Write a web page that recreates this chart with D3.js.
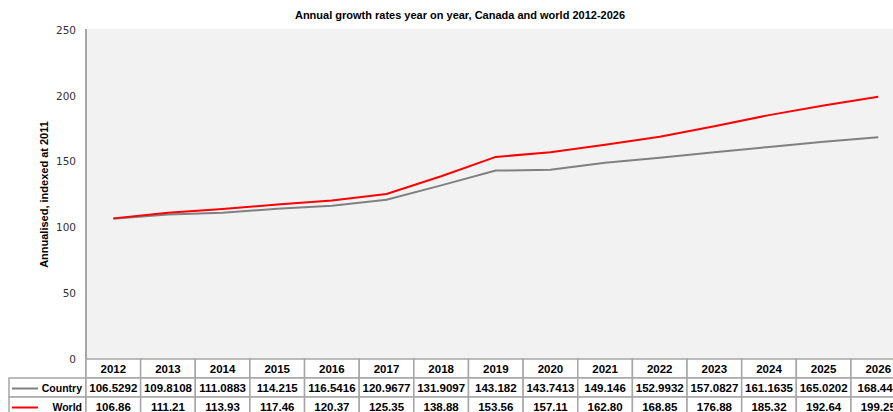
<!DOCTYPE html>
<html>
<head>
<meta charset="utf-8">
<script src="https://cdn.jsdelivr.net/npm/d3@7"></script>
<style>
  body { margin: 0; background: #fff; }
  svg { display: block; font-family: "Liberation Sans", Arial, sans-serif; }
</style>
</head>
<body>
<svg width="893" height="412"></svg>
<script>
var years = ["2012","2013","2014","2015","2016","2017","2018","2019","2020","2021","2022","2023","2024","2025","2026"];
var country = [106.5292,109.8108,111.0883,114.215,116.5416,120.9677,131.9097,143.182,143.7413,149.146,152.9932,157.0827,161.1635,165.0202,168.440];
var countryLabels = ["106.5292","109.8108","111.0883","114.215","116.5416","120.9677","131.9097","143.182","143.7413","149.146","152.9932","157.0827","161.1635","165.0202","168.440"];
var world = [106.86,111.21,113.93,117.46,120.37,125.35,138.88,153.56,157.11,162.80,168.85,176.88,185.32,192.64,199.25];
var worldLabels = ["106.86","111.21","113.93","117.46","120.37","125.35","138.88","153.56","157.11","162.80","168.85","176.88","185.32","192.64","199.25"];
var yTicks = [0, 50, 100, 150, 200, 250];

function draw() {
  var svg = d3.select("svg");
  var plotLeft = 86, plotTop = 30, plotBottom = 359, colW = 54.64;

  var x = d3.scaleBand().domain(years).range([plotLeft, plotLeft + colW * years.length]).padding(0);
  var y = d3.scaleLinear().domain([0, 250]).range([plotBottom, plotTop]);
  var cx = function(d) { return x(d) + x.bandwidth() / 2; };

  // plot background
  svg.append("rect")
    .attr("x", plotLeft).attr("y", plotTop - 1)
    .attr("width", 893 - plotLeft).attr("height", plotBottom - plotTop + 1)
    .attr("fill", "#f2f2f2");

  // title
  svg.append("text")
    .attr("x", 460).attr("y", 19)
    .attr("text-anchor", "middle")
    .style("font-size", "11px").style("font-weight", "bold")
    .text("Annual growth rates year on year, Canada and world 2012-2026");

  // y axis
  var yAxis = svg.append("g")
    .attr("transform", "translate(" + plotLeft + ",0)")
    .call(d3.axisLeft(y).tickValues(yTicks).tickSize(0).tickPadding(10));
  yAxis.select(".domain").remove();
  yAxis.selectAll("text")
    .attr("fill", "#333")
    .style("font-family", "'DejaVu Sans', sans-serif")
    .style("font-size", "10.5px");

  svg.append("line")
    .attr("x1", plotLeft).attr("x2", plotLeft)
    .attr("y1", plotTop - 1).attr("y2", 412)
    .attr("stroke", "#a6a6a6").attr("stroke-width", 2);

  svg.append("text")
    .attr("transform", "translate(48," + ((plotTop + plotBottom) / 2) + ") rotate(-90)")
    .attr("text-anchor", "middle")
    .style("font-size", "11px").style("font-weight", "bold")
    .text("Annualised, indexed at 2011");

  // lines
  var line = d3.line()
    .x(function(d, i) { return cx(years[i]); })
    .y(function(d) { return y(d); });

  svg.append("path")
    .datum(country)
    .attr("fill", "none")
    .attr("stroke", "#808080")
    .attr("stroke-width", 2)
    .attr("stroke-linejoin", "round")
    .attr("d", line);

  svg.append("path")
    .datum(world)
    .attr("fill", "none")
    .attr("stroke", "#ff0000")
    .attr("stroke-width", 2)
    .attr("stroke-linejoin", "round")
    .attr("d", line);

  // data table
  var rowTops = [plotBottom, 378, 397, 416];
  var table = svg.append("g");
  var border = "#a6a6a6";

  years.forEach(function(yr) {
    table.append("rect")
      .attr("x", x(yr)).attr("y", rowTops[0])
      .attr("width", x.bandwidth()).attr("height", rowTops[1] - rowTops[0])
      .attr("fill", "#fff").attr("stroke", border).attr("stroke-width", 1.5);
    table.append("text")
      .attr("x", cx(yr)).attr("y", (rowTops[0] + rowTops[1]) / 2 + 4.5)
      .attr("text-anchor", "middle")
      .style("font-size", "11.5px").style("font-weight", "bold")
      .text(yr);
  });

  var rows = [
    { name: "Country", color: "#808080", labels: countryLabels },
    { name: "World", color: "#ff0000", labels: worldLabels }
  ];

  rows.forEach(function(r, ri) {
    var t = rowTops[ri + 1], b = rowTops[ri + 2], mid = (t + b) / 2;
    table.append("rect")
      .attr("x", 9).attr("y", t)
      .attr("width", plotLeft - 9).attr("height", b - t)
      .attr("fill", "#fff").attr("stroke", border).attr("stroke-width", 1.5);
    table.append("line")
      .attr("x1", 12).attr("x2", 38)
      .attr("y1", mid + 1).attr("y2", mid + 1)
      .attr("stroke", r.color).attr("stroke-width", 2);
    table.append("text")
      .attr("x", 82).attr("y", mid + 4.5)
      .attr("text-anchor", "end")
      .style("font-size", "10.5px").style("font-weight", "bold")
      .text(r.name);
    years.forEach(function(yr, i) {
      table.append("rect")
        .attr("x", x(yr)).attr("y", t)
        .attr("width", x.bandwidth()).attr("height", b - t)
        .attr("fill", "#fff").attr("stroke", border).attr("stroke-width", 1.5);
      table.append("text")
        .attr("x", cx(yr)).attr("y", mid + 4.5)
        .attr("text-anchor", "middle")
        .style("font-size", "11.5px").style("font-weight", "bold")
        .text(r.labels[i]);
    });
  });
}

draw();
</script>
</body>
</html>
